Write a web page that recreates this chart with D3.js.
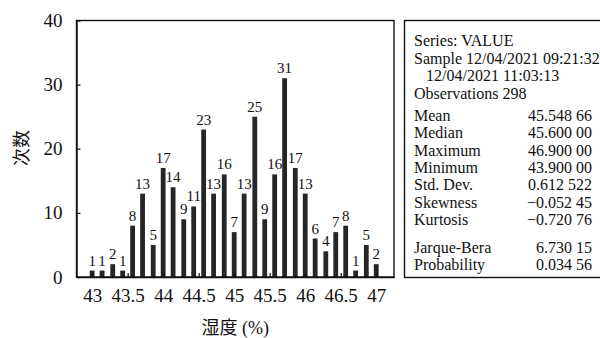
<!DOCTYPE html>
<html>
<head>
<meta charset="utf-8">
<script src="https://cdn.jsdelivr.net/npm/d3@7"></script>
<style>
  body { margin: 0; background: #fff; }
  svg { display: block; font-family: "Liberation Serif", "Times New Roman", serif; }
</style>
</head>
<body>
<svg id="chart" width="600" height="338"></svg>
<script>
// bin centres (humidity %) and counts
var binCentres = [43.00, 43.14, 43.29, 43.43, 43.57, 43.71, 43.86, 44.00, 44.14, 44.29,
                  44.43, 44.57, 44.71, 44.86, 45.00, 45.14, 45.29, 45.43, 45.57, 45.71,
                  45.86, 46.00, 46.14, 46.29, 46.43, 46.57, 46.71, 46.86, 47.00];
var counts = [1, 1, 2, 1, 8, 13, 5, 17, 14, 9,
              11, 23, 13, 16, 7, 13, 25, 9, 16, 31,
              17, 13, 6, 4, 7, 8, 1, 5, 2];
var xTicks = [43, 43.5, 44, 44.5, 45, 45.5, 46, 46.5, 47];
var yTicks = [0, 10, 20, 30, 40];

var headLines = ["Series: VALUE", "Sample 12/04/2021 09:21:32", "   12/04/2021 11:03:13", "Observations 298"];
var statNames = ["Mean", "Median", "Maximum", "Minimum", "Std. Dev.", "Skewness", "Kurtosis"];
var statValues = ["45.548 66", "45.600 00", "46.900 00", "43.900 00", "0.612 522", "\u22120.052 45", "\u22120.720 76"];
var testNames = ["Jarque-Bera", "Probability"];
var testValues = ["6.730 15", "0.034 56"];

(function(){
var svg = d3.select('#chart');
var serif = '"Liberation Serif", "Times New Roman", serif';

var pLeft = 76.5, pRight = 394, pTop = 20.5, pBottom = 277;

var x = d3.scaleLinear().domain([42.78, 47.25]).range([pLeft, pRight]);
var y = d3.scaleLinear().domain([0, 40]).range([pBottom, pTop]);

var barW = 4.8;

//bars
svg.append('g')
  .selectAll('rect')
  .data(counts)
  .enter()
  .append('rect')
  .attr('x', function(d, i){ return x(binCentres[i]) - barW / 2; })
  .attr('y', function(d){ return y(d); })
  .attr('width', barW)
  .attr('height', function(d){ return pBottom - y(d); })
  .attr('fill', '#262626');

//value labels
svg.append('g')
  .selectAll('text')
  .data(counts)
  .enter()
  .append('text')
  .attr('x', function(d, i){ return x(binCentres[i]); })
  .attr('y', function(d){ return y(d) - 5; })
  .attr('text-anchor', 'middle')
  .attr('font-size', 15)
  .attr('fill', '#111')
  .text(function(d){ return d; });

//frame
svg.append('rect')
  .attr('x', pLeft).attr('y', pTop)
  .attr('width', pRight - pLeft).attr('height', pBottom - pTop)
  .attr('fill', 'none').attr('stroke', '#111').attr('stroke-width', 1.4);

//axes with inward ticks
var yAxis = svg.append('g')
  .attr('transform', 'translate(' + pLeft + ',0)')
  .call(d3.axisLeft(y).tickValues(yTicks).tickSize(-4).tickSizeOuter(0).tickPadding(14));
var xAxis = svg.append('g')
  .attr('transform', 'translate(0,' + pBottom + ')')
  .call(d3.axisBottom(x).tickValues(xTicks).tickSize(-4).tickSizeOuter(0).tickPadding(12)
        .tickFormat(function(d){ return d; }));

[yAxis, xAxis].forEach(function(a){
  a.attr('font-family', null).attr('font-size', null);
  a.select('.domain').attr('stroke', '#111').attr('stroke-width', 1.4);
  a.selectAll('.tick line').attr('stroke', '#111').attr('stroke-width', 1.2);
  a.selectAll('.tick text')
    .attr('fill', '#111')
    .style('font-size', '19px')
    .style('font-family', serif);
});

//axis titles
svg.append('text')
  .attr('x', (pLeft + pRight) / 2).attr('y', 334)
  .attr('text-anchor', 'middle')
  .attr('fill', '#111')
  .style('font-size', '18px')
  .style('font-family', '"Liberation Serif", "Noto Sans CJK SC", serif')
  .text('湿度 (%)');

svg.append('text')
  .attr('transform', 'translate(28,148) rotate(-90)')
  .attr('text-anchor', 'middle')
  .attr('fill', '#111')
  .style('font-size', '18px')
  .style('font-family', '"Noto Sans CJK SC", serif')
  .text('次数');

//statistics box
svg.append('rect')
  .attr('x', 404.5).attr('y', pTop)
  .attr('width', 220).attr('height', pBottom - pTop + 0.5)
  .attr('fill', 'none').attr('stroke', '#111').attr('stroke-width', 1.4);

var box = svg.append('g').style('font-size', '16px').style('font-family', serif).attr('fill', '#111');
var textX = 414, valueX = 592;

box.selectAll('text.head')
  .data(headLines)
  .enter()
  .append('text')
  .attr('class', 'head')
  .attr('x', textX)
  .attr('y', function(d, i){ return 46 + i * 17.6; })
  .style('white-space', 'pre')
  .text(function(d){ return d; });

function statRows(names, values, y0, cls){
  box.selectAll('text.' + cls + 'n')
    .data(names).enter().append('text')
    .attr('class', cls + 'n')
    .attr('x', textX)
    .attr('y', function(d, i){ return y0 + i * 17.3; })
    .text(function(d){ return d; });
  box.selectAll('text.' + cls + 'v')
    .data(values).enter().append('text')
    .attr('class', cls + 'v')
    .attr('x', valueX)
    .attr('y', function(d, i){ return y0 + i * 17.3; })
    .attr('text-anchor', 'end')
    .text(function(d){ return d; });
}
statRows(statNames, statValues, 121, 's');
statRows(testNames, testValues, 252.5, 't');
})();
</script>
</body>
</html>
